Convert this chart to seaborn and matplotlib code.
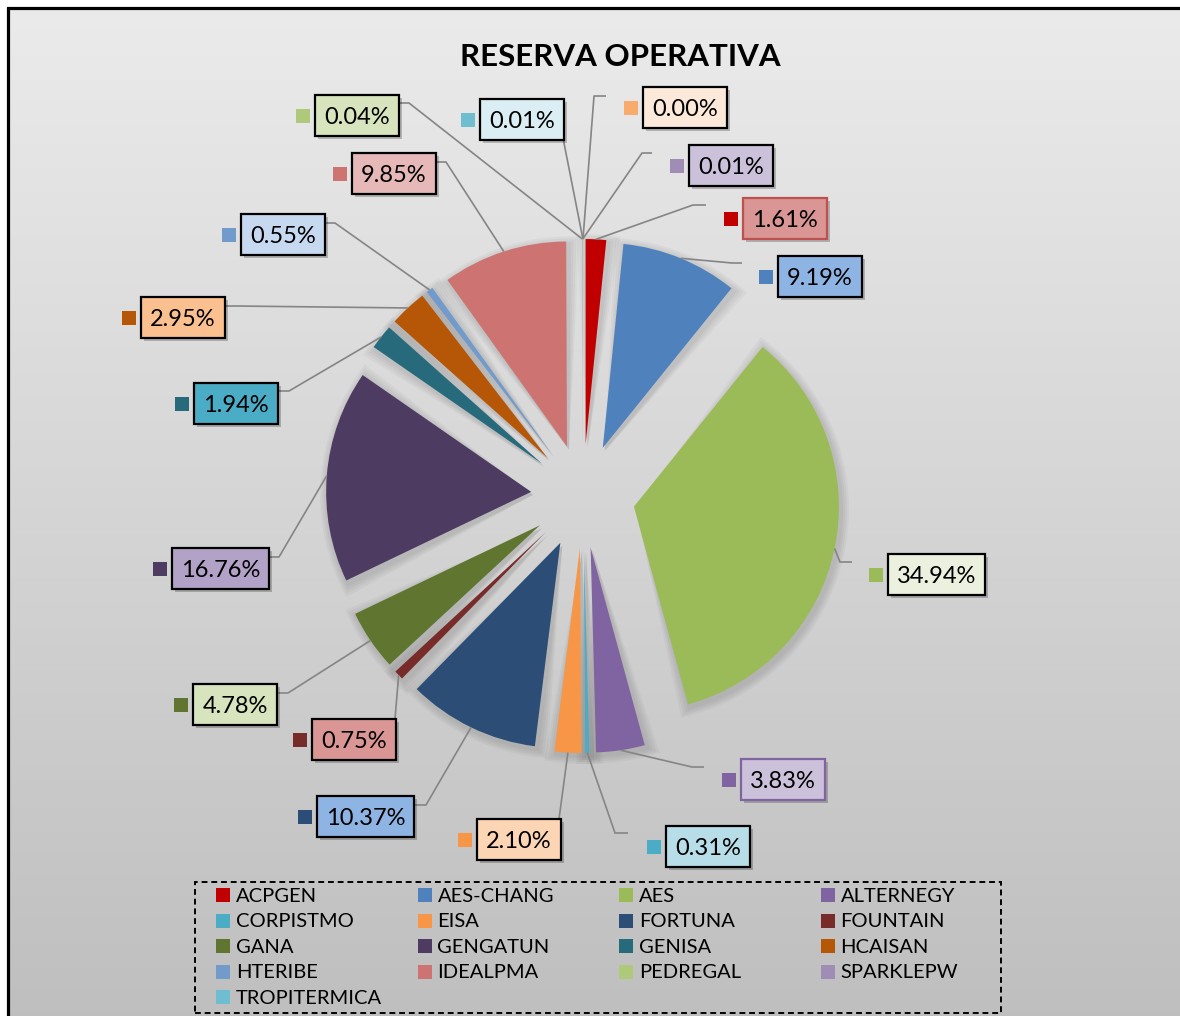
import numpy as np
import matplotlib
matplotlib.use('Agg')
import matplotlib.pyplot as plt
import seaborn as sns
from matplotlib.patches import Rectangle, Wedge
from matplotlib.colors import LinearSegmentedColormap

# -------------------------------
# 1. Data
# -------------------------------
plantas = ['ACPGEN', 'AES-CHANG', 'AES', 'ALTERNEGY', 'CORPISTMO', 'EISA',
           'FORTUNA', 'FOUNTAIN', 'GANA', 'GENGATUN', 'GENISA', 'HCAISAN',
           'HTERIBE', 'IDEALPMA', 'PEDREGAL', 'SPARKLEPW', 'TROPITERMICA', '']
reserva_pct = [1.61, 9.19, 34.94, 3.83, 0.31, 2.10, 10.37, 0.75, 4.78, 16.76,
               1.94, 2.95, 0.55, 9.85, 0.04, 0.01, 0.01, 0.001]

# -------------------------------
# 2. Styles
# -------------------------------
slice_colors = ['#C00000', '#4F81BD', '#9BBB59', '#8064A2', '#4BACC6', '#F79646',
                '#2C4D75', '#772C2A', '#5F7530', '#4D3B62', '#276A7C', '#B65708',
                '#729ACA', '#CD7371', '#AFC97A', '#A08DB5', '#6FBDD1', '#F9AB6B']
box_fill = ['#D99694', '#8EB4E3', '#EBF1DE', '#CCC1DA', '#B7DEE8', '#FCD5B5',
            '#8EB4E3', '#D99694', '#D7E4BD', '#B3A2C7', '#4BACC6', '#FAC090',
            '#C6D9F1', '#E6B9B8', '#D7E4BD', '#CCC1DA', '#DAEEF3', '#FDE9D9']
box_edge = ['#C0504D', 'black', 'black', '#8064A2'] + ['black'] * 14

# label layout in pixels: box left, box top, knee x, knee y, end x, end y
label_layout = [
    (743, 198, 693, 205, 706, 205),
    (778, 256, 732, 263, 742, 263),
    (888, 554, 840, 562, 852, 562),
    (741, 759, 692, 767, 704, 767),
    (666, 826, 615, 833, 628, 833),
    (477, 819, 559, 819, 559, 819),
    (317, 796, 426, 805, 414, 805),
    (312, 719, 395, 719, 395, 719),
    (193, 684, 288, 693, 277, 693),
    (172, 548, 279, 557, 268, 557),
    (194, 383, 289, 391, 277, 391),
    (141, 297, 235, 306, 223, 306),
    (241, 214, 335, 223, 323, 223),
    (352, 153, 446, 162, 435, 162),
    (315, 95, 409, 103, 398, 103),
    (689, 145, 642, 153, 652, 153),
    (480, 99, 563, 138, 563, 138),
    (643, 87, 594, 96, 606, 96),
]

W, H = 1180, 1016


def py(y):
    # pixel row -> data y
    return H - y


sns.set_theme(style='white')
plt.rcParams['font.family'] = ['Lato', 'DejaVu Sans']

fig = plt.figure(figsize=(W / 100, H / 100), dpi=100, facecolor='white')
ax = fig.add_axes([0, 0, 1, 1])

# background gradient + frame
grad = np.linspace(0, 1, 256).reshape(-1, 1)
cmap = LinearSegmentedColormap.from_list('bg', ['#EBEBEB', '#BEBEBE'])
ax.imshow(grad, cmap=cmap, extent=(7.5, W + 20, -20, py(7.5)), aspect='auto',
          origin='upper', zorder=0)
ax.add_patch(Rectangle((7.5, -20), W + 40, py(7.5) + 20, fill=False,
                       edgecolor='black', lw=2.3, zorder=1))

# -------------------------------
# 3. Pie
# -------------------------------
wedges, _ = ax.pie(reserva_pct, colors=slice_colors, startangle=90,
                   counterclock=False, radius=205, center=(583, py(496)),
                   explode=[52] * len(reserva_pct),
                   wedgeprops=dict(linewidth=0, zorder=2))

# soft shadow halo behind the visible slices
for w in wedges:
    if w.theta2 - w.theta1 < 1:
        continue
    for k in range(1, 5):
        dt = np.rad2deg(2.0 * k / w.r) + 0.2 * k
        ax.add_patch(Wedge((w.center[0] + 2, w.center[1] - 3), w.r + 2 * k,
                           w.theta1 - dt, w.theta2 + dt, color='black',
                           alpha=0.03, lw=0, zorder=1.5))

# labels with leader lines
for i, w in enumerate(wedges):
    bl, bt, kx, ky, ex, ey = label_layout[i]
    mid = np.deg2rad((w.theta1 + w.theta2) / 2)
    axx = w.center[0] + w.r * np.cos(mid)
    ayy = w.center[1] + w.r * np.sin(mid)
    ax.plot([axx, kx, ex], [ayy, py(ky), py(ey)], color='#858585', lw=1.2,
            zorder=3, solid_capstyle='butt')

    txt = f'{reserva_pct[i]:.2f}%'
    bw = 84 if len(txt) == 5 else 97
    bh = 41
    ax.add_patch(Rectangle((bl + 3, py(bt + bh) - 3), bw, bh, color='black',
                           alpha=0.22, lw=0, zorder=4))
    ax.add_patch(Rectangle((bl, py(bt + bh)), bw, bh, facecolor=box_fill[i],
                           edgecolor=box_edge[i], lw=1.6, zorder=5))
    ax.text(bl + bw / 2, py(bt + bh / 2 + 2), txt, ha='center', va='center',
            fontsize=17, color='black', zorder=6)
    ax.add_patch(Rectangle((bl - 19, py(bt + bh / 2 + 7)), 14, 14,
                           color=slice_colors[i], lw=0, zorder=5))

# title
ax.text(620, py(57), 'RESERVA OPERATIVA', ha='center', va='center',
        fontsize=22.5, fontweight='bold', color='black', zorder=6)

# -------------------------------
# 4. Legend (row by row, 4 columns)
# -------------------------------
ax.add_patch(Rectangle((195, py(1013)), 806, 131, fill=False, edgecolor='black',
                       lw=1.4, ls=(0, (3, 2)), zorder=5))
k = 0
for i, name in enumerate(plantas):
    if not name:
        continue
    row, col = divmod(k, 4)
    mx = 216 + col * 201.5
    my = 895 + row * 25.6
    ax.add_patch(Rectangle((mx, py(my + 7)), 14, 14, color=slice_colors[i],
                           lw=0, zorder=6))
    ax.text(mx + 20, py(my + 1), name, ha='left', va='center', fontsize=14.5,
            color='black', zorder=6)
    k += 1

ax.set_xlim(0, W)
ax.set_ylim(0, H)
ax.set_aspect('equal')
ax.axis('off')

plt.savefig('out.png', dpi=100, facecolor='white')
